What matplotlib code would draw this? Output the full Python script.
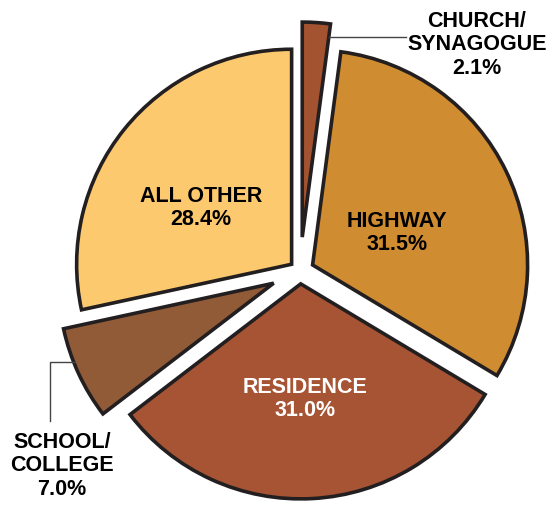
import matplotlib
matplotlib.use('Agg')
import matplotlib.pyplot as plt

labels = ['CHURCH/\nSYNAGOGUE', 'HIGHWAY', 'RESIDENCE', 'SCHOOL/\nCOLLEGE', 'ALL OTHER']
values = [2.1, 31.5, 31.0, 7.0, 28.4]
colors = ['#A3532F', '#D08C30', '#A65433', '#925B37', '#FCC96F']
explode = [0.158, 0.065, 0.06, 0.135, 0.05]

R = 215.0   # pie radius in pixels
CX, CY = 300.0, 272.0  # pie centre in pixels

def px(x, y):
    return ((x - CX) / R, (CY - y) / R)

fig = plt.figure(figsize=(5.54, 5.10), dpi=100)
ax = fig.add_axes([0, 0, 1, 1])
ax.pie(values, colors=colors, startangle=90, counterclock=False, explode=explode,
       wedgeprops=dict(edgecolor='#231f20', linewidth=2.6, joinstyle='miter'))
ax.set_xlim(-CX / R, (554 - CX) / R)
ax.set_ylim(-(510 - CY) / R, CY / R)
ax.set_aspect('equal')
ax.axis('off')

font = dict(family=['Liberation Sans', 'DejaVu Sans'], fontweight='bold', fontsize=15.5,
            ha='center', va='center', linespacing=1.15)

def lab(i):
    return labels[i] + '\n' + '%.1f%%' % values[i]

ax.text(*px(201, 208), lab(4), color='black', **font)
ax.text(*px(397, 233), lab(1), color='black', **font)
ax.text(*px(305, 399), lab(2), color='white', **font)
ax.text(*px(477, 45), lab(0), color='black', **font)
ax.text(*px(62, 466), lab(3), color='black', **font)

# leader lines
x0, y0 = px(329, 38)
x1, y1 = px(406, 38)
ax.plot([x0, x1], [y0, y1], color='#444444', lw=1.0)
a = px(50, 422)
b = px(50, 363)
c = px(75, 363)
ax.plot([a[0], b[0], c[0]], [a[1], b[1], c[1]], color='#444444', lw=1.0)

fig.savefig('out.png', dpi=100)
